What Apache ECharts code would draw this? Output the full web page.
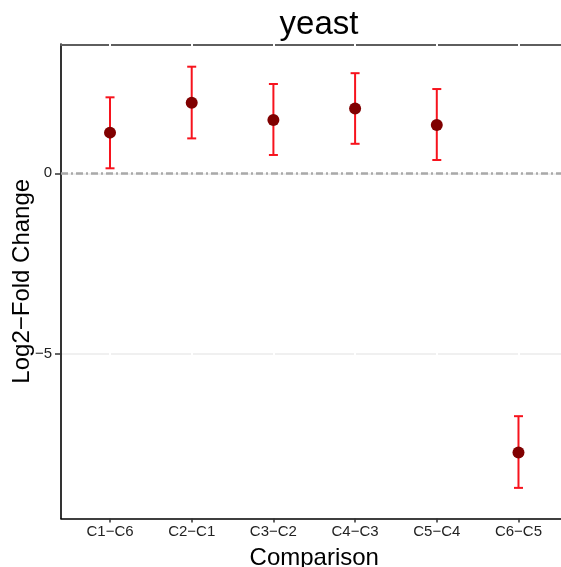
<!DOCTYPE html>
<html>
<head>
<meta charset="utf-8">
<title>yeast</title>
<script src="https://cdn.jsdelivr.net/npm/echarts@6/dist/echarts.min.js"></script>
<style>
  html, body { margin: 0; padding: 0; background: #ffffff; }
  #chart { width: 561px; height: 567px; }
</style>
</head>
<body>
<div id="chart"></div>
<script>
// Pairwise comparisons and their log2 fold changes with interval bounds
const comparisons = ['C1\u2212C6', 'C2\u2212C1', 'C3\u2212C2', 'C4\u2212C3', 'C5\u2212C4', 'C6\u2212C5'];
const log2fc = [1.13, 1.96, 1.48, 1.80, 1.34, -7.75];
const lower = [0.14, 0.97, 0.51, 0.82, 0.37, -8.73];
const upper = [2.11, 2.96, 2.48, 2.78, 2.34, -6.74];
const yTicks = [-5, 0];

const FONT = '"Liberation Sans", Arial, Helvetica, sans-serif';
const xPos = comparisons.map((_, i) => i + 1);

const pointData = xPos.map((x, i) => [x, log2fc[i]]);
const barData = xPos.map((x, i) => [x, lower[i], upper[i]]);

const chart = echarts.init(document.getElementById('chart'), null, { renderer: 'canvas' });

const option = {
  backgroundColor: '#ffffff',
  animation: false,
  title: {
    text: 'yeast',
    left: 314,
    top: 3,
    textAlign: 'center',
    textStyle: { fontFamily: FONT, fontSize: 33, fontWeight: 'normal', color: '#000000' }
  },
  grid: { left: 61, top: 44, width: 506.5, height: 474.5, containLabel: false, outerBoundsMode: 'none' },
  xAxis: [
    {
      type: 'value',
      position: 'bottom',
      min: 0.4,
      max: 6.6,
      z: 1,
      name: 'Comparison',
      nameLocation: 'middle',
      nameGap: 28,
      nameTextStyle: { fontFamily: FONT, fontSize: 24, color: '#000000' },
      axisLine: { show: true, onZero: false, lineStyle: { color: '#000000', width: 1.6 } },
      axisTick: { show: true, length: 4, customValues: xPos, lineStyle: { color: '#333333', width: 1.5 } },
      axisLabel: {
        show: true,
        customValues: xPos,
        margin: 6,
        fontFamily: FONT,
        fontSize: 15,
        color: '#222222',
        formatter: v => comparisons[Math.round(v) - 1] || ''
      },
      splitLine: { show: true, lineStyle: { color: '#ffffff', width: 2 } }
    },
    {
      type: 'value',
      position: 'top',
      min: 0.4,
      max: 6.6,
      z: 0,
      offset: -1,
      axisLine: { show: true, onZero: false, lineStyle: { color: '#5e5e5e', width: 2 } },
      axisTick: { show: false },
      axisLabel: { show: false },
      splitLine: { show: false }
    }
  ],
  yAxis: {
    type: 'value',
    min: -9.58,
    max: 3.59,
    z: 0,
    name: 'Log2\u2212Fold Change',
    nameLocation: 'middle',
    nameGap: 27,
    nameMoveOverlap: false,
    nameTextStyle: { fontFamily: FONT, fontSize: 24, color: '#000000' },
    axisLine: { show: true, onZero: false, lineStyle: { color: '#000000', width: 1.6 } },
    axisTick: { show: true, length: 6, customValues: yTicks, lineStyle: { color: '#333333', width: 1.5 } },
    axisLabel: {
      show: true,
      customValues: yTicks,
      margin: 9,
      padding: [3, 0, 0, 0],
      fontFamily: FONT,
      fontSize: 15,
      color: '#222222',
      formatter: v => String(v).replace('-', '\u2212')
    },
    splitLine: { show: true, lineStyle: { color: '#ebebeb', width: 1.6 } }
  },
  series: [
    {
      // dash-dot reference line at zero change
      type: 'line',
      data: [],
      z: 2,
      silent: true,
      markLine: {
        silent: true,
        symbol: ['none', 'none'],
        label: { show: false },
        lineStyle: { color: '#a9a9a9', width: 2.5, type: [7, 3, 2, 3] },
        data: [{ yAxis: 0 }]
      }
    },
    {
      // interval bars with caps
      type: 'custom',
      z: 3,
      silent: true,
      data: barData,
      encode: { x: 0, y: [1, 2] },
      renderItem: function (params, api) {
        const x = api.value(0);
        const lo = api.coord([x, api.value(1)]);
        const hi = api.coord([x, api.value(2)]);
        const cap = 4.5;
        const style = { stroke: '#f7131d', lineWidth: 2, fill: 'none' };
        return {
          type: 'group',
          children: [
            { type: 'line', shape: { x1: lo[0], y1: lo[1], x2: hi[0], y2: hi[1] }, style: style },
            { type: 'line', shape: { x1: hi[0] - cap, y1: hi[1], x2: hi[0] + cap, y2: hi[1] }, style: style },
            { type: 'line', shape: { x1: lo[0] - cap, y1: lo[1], x2: lo[0] + cap, y2: lo[1] }, style: style }
          ]
        };
      }
    },
    {
      type: 'scatter',
      z: 4,
      symbol: 'circle',
      symbolSize: 12,
      data: pointData,
      itemStyle: { color: '#800000', opacity: 1 }
    }
  ]
};

chart.setOption(option);
</script>
</body>
</html>
